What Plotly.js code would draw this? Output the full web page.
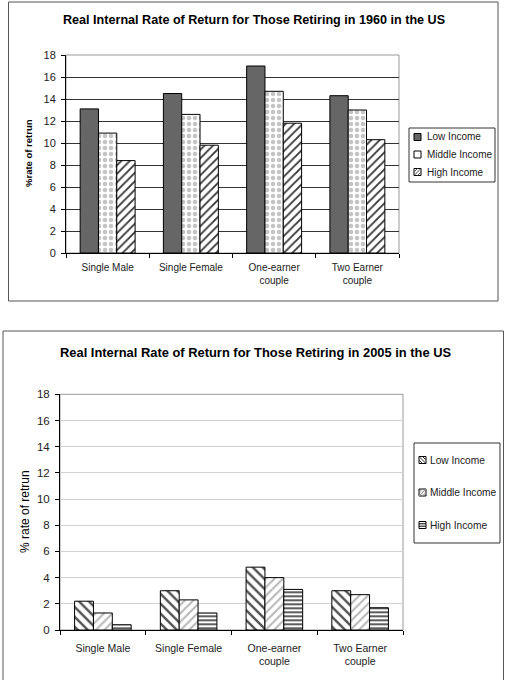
<!DOCTYPE html>
<html>
<head>
<meta charset="utf-8">
<script src="https://cdn.plot.ly/plotly-3.0.1.min.js"></script>
<style>
html,body{margin:0;padding:0;background:#fff;}
#chart{width:506px;height:680px;}
</style>
</head>
<body>
<div id="chart"></div>
<script>
// ---- data ----
var categories = ["Single Male", "Single Female", "One-earner<br>couple", "Two Earner<br>couple"];
var seriesNames = ["Low Income", "Middle Income", "High Income"];

var low1960 = [13.1, 14.5, 17.0, 14.3];
var mid1960 = [10.9, 12.6, 14.7, 13.0];
var high1960 = [8.4, 9.8, 11.8, 10.3];

var low2005 = [2.2, 3.0, 4.8, 3.0];
var mid2005 = [1.3, 2.3, 4.0, 2.7];
var high2005 = [0.4, 1.3, 3.1, 1.7];

var yTicks = [0, 2, 4, 6, 8, 10, 12, 14, 16, 18];

var title1960 = "Real Internal Rate of Return for Those Retiring in 1960 in the US";
var title2005 = "Real Internal Rate of Return for Those Retiring in 2005 in the US";
var yTitle1960 = "%rate of retrun";
var yTitle2005 = "% rate of retrun";

// ---- helpers (pixel -> paper) ----
var W = 506, H = 680;
function px(x){ return x / W; }
function py(y){ return 1 - y / H; }

var FONT = "Liberation Sans, Arial, sans-serif";
var barLine = {color: "#000", width: 1};

var traces = [
  {type: "bar", name: seriesNames[0], x: categories, y: low1960, xaxis: "x", yaxis: "y",
   marker: {color: "#666666", line: barLine}},
  {type: "bar", name: seriesNames[1], x: categories, y: mid1960, xaxis: "x", yaxis: "y",
   marker: {color: "#ffffff", line: barLine,
            pattern: {shape: ".", fgcolor: "#c4c4c4", bgcolor: "#ffffff", size: 6, solidity: 0.45, fillmode: "replace"}}},
  {type: "bar", name: seriesNames[2], x: categories, y: high1960, xaxis: "x", yaxis: "y",
   marker: {color: "#ffffff", line: barLine,
            pattern: {shape: "/", fgcolor: "#333333", bgcolor: "#ffffff", size: 6, solidity: 0.3, fillmode: "replace"}}},

  {type: "bar", name: seriesNames[0], x: categories, y: low2005, xaxis: "x2", yaxis: "y2",
   marker: {color: "#ffffff", line: barLine,
            pattern: {shape: "\\", fgcolor: "#555555", bgcolor: "#ffffff", size: 7, solidity: 0.35, fillmode: "replace"}}},
  {type: "bar", name: seriesNames[1], x: categories, y: mid2005, xaxis: "x2", yaxis: "y2",
   marker: {color: "#ffffff", line: barLine,
            pattern: {shape: "/", fgcolor: "#b8b8b8", bgcolor: "#ffffff", size: 6, solidity: 0.35, fillmode: "replace"}}},
  {type: "bar", name: seriesNames[2], x: categories, y: high2005, xaxis: "x2", yaxis: "y2",
   marker: {color: "#ffffff", line: barLine,
            pattern: {shape: "-", fgcolor: "#333333", bgcolor: "#ffffff", size: 4, solidity: 0.4, fillmode: "replace"}}}
];

var shapes = [
  // outer frames
  {type: "rect", xref: "paper", yref: "paper", x0: px(8.5), x1: px(498), y0: py(301), y1: py(2),
   line: {color: "#555", width: 1}, fillcolor: "rgba(0,0,0,0)", layer: "below"},
  {type: "rect", xref: "paper", yref: "paper", x0: px(3), x1: px(503.5), y0: py(690), y1: py(331),
   line: {color: "#555", width: 1}, fillcolor: "rgba(0,0,0,0)", layer: "below"},
  // plot area borders
  {type: "rect", xref: "x domain", yref: "y domain", x0: 0, x1: 1, y0: 0, y1: 1,
   line: {color: "#999", width: 1}, fillcolor: "rgba(0,0,0,0)", layer: "below"},
  {type: "rect", xref: "x2 domain", yref: "y2 domain", x0: 0, x1: 1, y0: 0, y1: 1,
   line: {color: "#999", width: 1}, fillcolor: "rgba(0,0,0,0)", layer: "below"}
];

var annotations = [
  {text: "<b>" + title1960 + "</b>", xref: "paper", yref: "paper", x: px(254), y: py(20),
   xanchor: "center", yanchor: "middle", showarrow: false,
   font: {family: FONT, size: 12.6, color: "#000"}},
  {text: "<b>" + title2005 + "</b>", xref: "paper", yref: "paper", x: px(255), y: py(352),
   xanchor: "center", yanchor: "middle", showarrow: false,
   font: {family: FONT, size: 12.9, color: "#000"}},
  {text: "<b>" + yTitle1960 + "</b>", xref: "paper", yref: "paper", x: px(29), y: py(153),
   xanchor: "center", yanchor: "middle", showarrow: false, textangle: -90,
   font: {family: FONT, size: 9.5, color: "#000"}},
  {text: yTitle2005, xref: "paper", yref: "paper", x: px(25), y: py(512),
   xanchor: "center", yanchor: "middle", showarrow: false, textangle: -90,
   font: {family: FONT, size: 12, color: "#000"}}
];

// ---- legends (Excel-style compact boxes) ----
function addLegend(box, items, sq, textX, fontSize){
  shapes.push({type: "rect", xref: "paper", yref: "paper",
    x0: px(box[0]), x1: px(box[1]), y0: py(box[3]), y1: py(box[2]),
    line: {color: "#333", width: 1}, fillcolor: "#fff", layer: "above"});
  items.forEach(function(it){
    var cy = it.y, x0 = sq[0], x1 = sq[0] + sq[1], h = sq[1] / 2;
    shapes.push({type: "rect", xref: "paper", yref: "paper",
      x0: px(x0), x1: px(x1), y0: py(cy + h), y1: py(cy - h),
      line: {color: "#000", width: 1}, fillcolor: it.fill, layer: "above"});
    (it.lines || []).forEach(function(l){
      shapes.push({type: "line", xref: "paper", yref: "paper",
        x0: px(x0 + l[0]), y0: py(cy - h + l[1]), x1: px(x0 + l[2]), y1: py(cy - h + l[3]),
        line: {color: it.lc || "#333", width: 1}, layer: "above"});
    });
    annotations.push({text: it.name, xref: "paper", yref: "paper", x: px(textX), y: py(cy),
      xanchor: "left", yanchor: "middle", showarrow: false,
      font: {family: FONT, size: fontSize, color: "#222"}});
  });
}

addLegend([409, 495, 128, 182], [
  {name: seriesNames[0], y: 137, fill: "#666666"},
  {name: seriesNames[1], y: 154.5, fill: "#ffffff"},
  {name: seriesNames[2], y: 172, fill: "#ffffff", lines: [[0, 7, 7, 0], [0, 3.5, 3.5, 0], [3.5, 7, 7, 3.5]], lc: "#555"}
], [414, 7], 425, 10);

addLegend([414, 500, 443, 543], [
  {name: seriesNames[0], y: 460, fill: "#ffffff", lines: [[0, 0, 7, 7], [0, 3.5, 3.5, 7], [3.5, 0, 7, 3.5]], lc: "#333"},
  {name: seriesNames[1], y: 492.5, fill: "#e8e8e8", lines: [[0, 7, 7, 0], [0, 3.5, 3.5, 0], [3.5, 7, 7, 3.5]], lc: "#999"},
  {name: seriesNames[2], y: 525, fill: "#ffffff", lines: [[0, 2.3, 7, 2.3], [0, 4.7, 7, 4.7]], lc: "#000"}
], [419, 7], 428, 10.2);

var layout = {
  width: W, height: H,
  margin: {l: 0, r: 0, t: 0, b: 0},
  paper_bgcolor: "#fff",
  plot_bgcolor: "#fff",
  barmode: "group",
  bargap: 0.34,
  bargroupgap: 0,
  showlegend: false,
  font: {family: FONT, size: 10, color: "#222"},
  xaxis: {
    domain: [px(66), px(399)], anchor: "y",
    showline: true, linecolor: "#000", linewidth: 1,
    ticks: "outside", ticklen: 4, tickcolor: "#000", tickson: "boundaries",
    ticklabelstandoff: 5,
    tickfont: {family: FONT, size: 10, color: "#222"}, showgrid: false, fixedrange: true
  },
  yaxis: {
    domain: [py(253), py(55)], anchor: "x",
    range: [0, 18], tickvals: yTicks, ticktext: yTicks.map(String),
    showline: true, linecolor: "#000", linewidth: 1,
    ticks: "outside", ticklen: 4, tickcolor: "#000", ticklabelstandoff: 3,
    showgrid: true, gridcolor: "#333", gridwidth: 1,
    zeroline: false, tickfont: {family: FONT, size: 11, color: "#222"}, fixedrange: true
  },
  xaxis2: {
    domain: [px(60), px(403)], anchor: "y2",
    showline: true, linecolor: "#000", linewidth: 1,
    ticks: "outside", ticklen: 4, tickcolor: "#000", tickson: "boundaries",
    ticklabelstandoff: 8,
    tickfont: {family: FONT, size: 10.5, color: "#222"}, showgrid: false, fixedrange: true
  },
  yaxis2: {
    domain: [py(630), py(394.3)], anchor: "x2",
    range: [0, 18], tickvals: yTicks, ticktext: yTicks.map(String),
    showline: true, linecolor: "#000", linewidth: 1,
    ticks: "outside", ticklen: 4, tickcolor: "#000", ticklabelstandoff: 3,
    showgrid: true, gridcolor: "#d2d2d2", gridwidth: 1,
    zeroline: false, tickfont: {family: FONT, size: 11.5, color: "#222"}, fixedrange: true
  },
  shapes: shapes,
  annotations: annotations
};

Plotly.newPlot("chart", traces, layout, {displayModeBar: false, staticPlot: true});
</script>
</body>
</html>
